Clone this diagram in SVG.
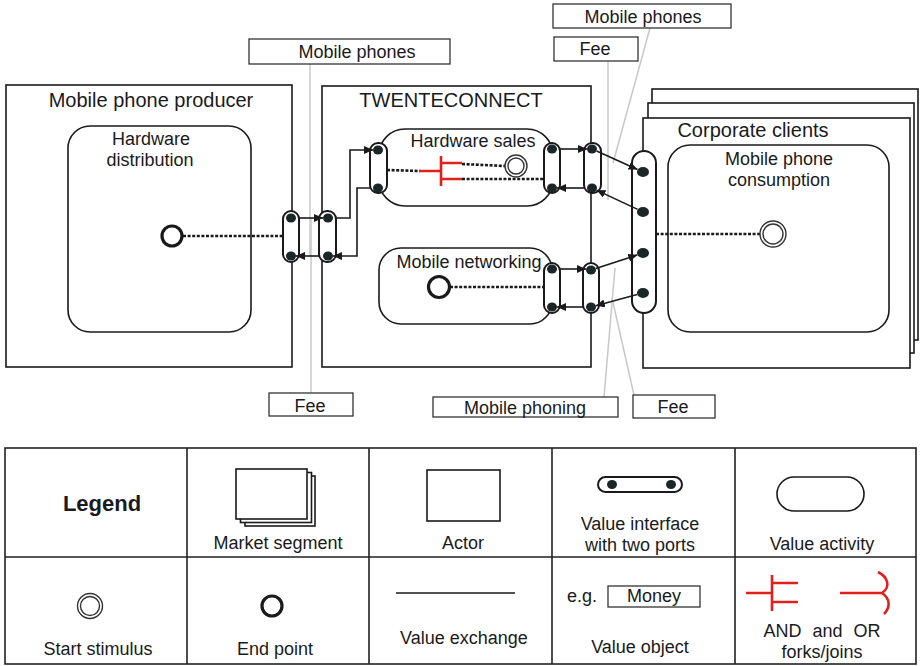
<svg xmlns="http://www.w3.org/2000/svg" width="920" height="666" viewBox="0 0 920 666">
  <style>
    text { font-family: "Liberation Sans", Arial, sans-serif; fill: #1a1a1a; }
    .title { font-size: 20px; text-anchor: middle; }
    .lbl { font-size: 18px; text-anchor: middle; }
    .actor { fill: #fff; stroke: #1a1a1a; stroke-width: 1.6; }
    .act { fill: #fff; stroke: #1a1a1a; stroke-width: 1.6; }
    .iface { fill: #fff; stroke: #1a1a1a; stroke-width: 2; }
    .port { fill: #1b2626; }
    .vobj { fill: #fff; stroke: #333; stroke-width: 1.3; }
    .lead { stroke: #c8c8c8; stroke-width: 1.5; fill: none; }
    .dot { stroke: #1a1a1a; stroke-width: 2.6; stroke-dasharray: 3 1.6; fill: none; }
    .xch { stroke: #1a1a1a; stroke-width: 1.6; fill: none; marker-end: url(#arr); }
    .red { stroke: #e0201c; stroke-width: 2.6; fill: none; }
    .endpt { fill: #fff; stroke: #1a1a1a; stroke-width: 3.2; }
    .stim { fill: #fff; stroke: #333; stroke-width: 1.4; }
    .grid { fill: none; stroke: #222; stroke-width: 1.6; }
  </style>
  <defs>
    <marker id="arr" markerUnits="userSpaceOnUse" markerWidth="9" markerHeight="8" refX="9" refY="4" orient="auto">
      <path d="M0,0 L9,4 L0,8 z" fill="#1a1a1a"/>
    </marker>
  </defs>

  <rect width="920" height="666" fill="#fff"/>

  <!-- value object leader lines -->
  <g id="leaders">
    <line class="lead" x1="310" y1="64" x2="310" y2="256"/>
    <line class="lead" x1="311" y1="218" x2="311" y2="393"/>
    <line class="lead" x1="650" y1="28" x2="613" y2="163"/>
    <line class="lead" x1="608" y1="61" x2="608" y2="200"/>
    <line class="lead" x1="604" y1="397" x2="615" y2="268"/>
    <line class="lead" x1="634" y1="395" x2="612" y2="298"/>
  </g>

  <!-- actor: Mobile phone producer -->
  <g id="producer">
    <rect class="actor" x="6" y="85" width="286" height="282"/>
    <text class="title" x="151" y="107">Mobile phone producer</text>
    <g id="hardware-distribution">
      <rect class="act" x="68" y="126" width="183" height="206" rx="22"/>
      <text class="lbl" x="151" y="145">Hardware</text>
      <text class="lbl" x="150" y="166">distribution</text>
      <circle class="endpt" cx="172" cy="236" r="10"/>
      <line class="dot" x1="183" y1="236" x2="283" y2="236"/>
    </g>
  </g>

  <!-- actor: TWENTECONNECT -->
  <g id="twenteconnect">
    <rect class="actor" x="322" y="86" width="269" height="281"/>
    <text class="title" x="451" y="107">TWENTECONNECT</text>
    <g id="hardware-sales">
      <rect class="act" x="379" y="129" width="174" height="77" rx="26"/>
      <text class="lbl" x="473" y="147">Hardware sales</text>
      <line class="dot" x1="387" y1="170" x2="420" y2="171"/>
      <path class="red" d="M419,171 H441 M441,156 V186 M441,163 H462 M441,179 H462"/>
      <line class="dot" x1="462" y1="164" x2="505" y2="166"/>
      <line class="dot" x1="462" y1="179" x2="544" y2="179"/>
      <circle class="stim" cx="516" cy="166" r="11"/>
      <circle class="stim" cx="516" cy="166" r="8"/>
    </g>
    <g id="mobile-networking">
      <rect class="act" x="379" y="248" width="173" height="76" rx="22"/>
      <text class="lbl" x="469" y="268">Mobile networking</text>
      <circle class="endpt" cx="439" cy="287" r="10.5"/>
      <line class="dot" x1="450" y1="287" x2="544" y2="287"/>
    </g>
  </g>

  <!-- market segment: Corporate clients -->
  <g id="corporate-clients">
    <rect class="actor" x="652" y="89" width="266" height="251"/>
    <rect class="actor" x="648" y="103" width="266" height="250"/>
    <rect class="actor" x="643" y="118" width="267" height="250"/>
    <text class="title" x="753" y="137">Corporate clients</text>
    <g id="mobile-phone-consumption">
      <rect class="act" x="668" y="145" width="221" height="187" rx="22"/>
      <text class="lbl" x="779" y="165">Mobile phone</text>
      <text class="lbl" x="779" y="186">consumption</text>
      <line class="dot" x1="656" y1="234" x2="760" y2="234"/>
      <circle class="stim" cx="773" cy="234" r="13"/>
      <circle class="stim" cx="773" cy="234" r="10"/>
    </g>
  </g>

  <!-- value interfaces with ports -->
  <g id="interfaces">
    <g id="if-producer">
      <rect class="iface" x="283" y="211" width="16" height="51" rx="8"/>
      <ellipse class="port" cx="291" cy="218" rx="5" ry="4.5"/>
      <ellipse class="port" cx="291" cy="256" rx="5" ry="4.5"/>
    </g>
    <g id="if-twente-left">
      <rect class="iface" x="319" y="211" width="17" height="51" rx="8"/>
      <ellipse class="port" cx="328" cy="218" rx="5" ry="4.5"/>
      <ellipse class="port" cx="328" cy="256" rx="5" ry="4.5"/>
    </g>
    <g id="if-sales-left">
      <rect class="iface" x="370" y="143" width="17" height="50" rx="8"/>
      <ellipse class="port" cx="378" cy="150" rx="5" ry="4.5"/>
      <ellipse class="port" cx="378" cy="188" rx="5" ry="4.5"/>
    </g>
    <g id="if-sales-right">
      <rect class="iface" x="544" y="143" width="16" height="50" rx="8"/>
      <ellipse class="port" cx="552" cy="149" rx="5" ry="4.5"/>
      <ellipse class="port" cx="552" cy="188" rx="5" ry="4.5"/>
    </g>
    <g id="if-twente-top">
      <rect class="iface" x="584" y="143" width="17" height="50" rx="8"/>
      <ellipse class="port" cx="592" cy="149" rx="5" ry="4.5"/>
      <ellipse class="port" cx="592" cy="188" rx="5" ry="4.5"/>
    </g>
    <g id="if-network-right">
      <rect class="iface" x="544" y="263" width="16" height="50" rx="8"/>
      <ellipse class="port" cx="552" cy="269" rx="5" ry="4.5"/>
      <ellipse class="port" cx="552" cy="307" rx="5" ry="4.5"/>
    </g>
    <g id="if-twente-bottom">
      <rect class="iface" x="583" y="263" width="16" height="50" rx="8"/>
      <ellipse class="port" cx="591" cy="270" rx="5" ry="4.5"/>
      <ellipse class="port" cx="591" cy="307" rx="5" ry="4.5"/>
    </g>
    <g id="if-corporate">
      <rect class="iface" x="632" y="151" width="24" height="162" rx="12"/>
      <ellipse class="port" cx="643" cy="172" rx="6" ry="5"/>
      <ellipse class="port" cx="643" cy="212" rx="6" ry="5"/>
      <ellipse class="port" cx="643" cy="253" rx="6" ry="5"/>
      <ellipse class="port" cx="643" cy="293" rx="6" ry="5"/>
    </g>
  </g>

  <!-- value exchanges -->
  <g id="connectors">
    <path class="xch" d="M299,218 H323"/>
    <path class="xch" d="M319,256 H296"/>
    <path class="xch" d="M336,218 H350 V150 H373"/>
    <path class="xch" d="M370,188 H357 V256 H333"/>
    <path class="xch" d="M560,149 H587"/>
    <path class="xch" d="M584,188 H557"/>
    <path class="xch" d="M560,269 H586"/>
    <path class="xch" d="M583,307 H557"/>
    <path class="xch" d="M596.6,151.1 L637.5,169.5"/>
    <path class="xch" d="M637.6,209.4 L596.5,190.1"/>
    <path class="xch" d="M595.8,268.4 L637.3,254.9"/>
    <path class="xch" d="M637.2,294.6 L595.8,305.7"/>
  </g>

  <!-- value objects -->
  <g id="value-objects">
    <g id="vo-phones-1">
      <rect class="vobj" x="249" y="39" width="201" height="25"/>
      <text class="lbl" x="357" y="58">Mobile phones</text>
    </g>
    <g id="vo-fee-1">
      <rect class="vobj" x="269" y="393" width="84" height="23"/>
      <text class="lbl" x="310" y="412">Fee</text>
    </g>
    <g id="vo-phones-2">
      <rect class="vobj" x="553" y="4" width="178" height="24"/>
      <text class="lbl" x="643" y="23">Mobile phones</text>
    </g>
    <g id="vo-fee-2">
      <rect class="vobj" x="554" y="37" width="84" height="24"/>
      <text class="lbl" x="595" y="55">Fee</text>
    </g>
    <g id="vo-phoning">
      <rect class="vobj" x="433" y="397" width="185" height="20"/>
      <text class="lbl" x="525" y="414">Mobile phoning</text>
    </g>
    <g id="vo-fee-3">
      <rect class="vobj" x="633" y="395" width="82" height="23"/>
      <text class="lbl" x="673" y="413">Fee</text>
    </g>
  </g>

  <!-- legend table -->
  <g id="legend">
    <rect class="grid" x="5" y="448" width="911" height="216"/>
    <path class="grid" d="M5,557 H916 M187,448 V664 M369,448 V664 M552,448 V664 M735,448 V664"/>
    <text x="102" y="511" style="font-size:22px;font-weight:bold;text-anchor:middle">Legend</text>

    <rect class="actor" x="245" y="476" width="70" height="50"/>
    <rect class="actor" x="240.5" y="472.5" width="71" height="50"/>
    <rect class="actor" x="236" y="469" width="71" height="50"/>
    <text class="lbl" x="278" y="549">Market segment</text>

    <rect class="actor" x="427" y="470" width="73" height="51"/>
    <text class="lbl" x="463" y="549">Actor</text>

    <rect class="iface" x="598" y="477" width="84" height="15" rx="7.5"/>
    <ellipse class="port" cx="612" cy="484.5" rx="5" ry="4.5"/>
    <ellipse class="port" cx="671" cy="484.5" rx="5" ry="4.5"/>
    <text class="lbl" x="640" y="530">Value interface</text>
    <text class="lbl" x="640" y="551">with two ports</text>

    <rect class="act" x="777" y="477" width="87" height="34" rx="17"/>
    <text class="lbl" x="822" y="550">Value activity</text>

    <circle class="stim" cx="90" cy="606" r="12.5"/>
    <circle class="stim" cx="90" cy="606" r="9.5"/>
    <text class="lbl" x="98" y="655">Start stimulus</text>

    <circle class="endpt" cx="272" cy="606" r="10"/>
    <text class="lbl" x="275" y="655">End point</text>

    <line x1="396" y1="593" x2="515" y2="593" stroke="#1a1a1a" stroke-width="1.6"/>
    <text class="lbl" x="464" y="644">Value exchange</text>

    <text x="567" y="602" style="font-size:18px">e.g.</text>
    <rect class="vobj" x="608" y="586" width="92" height="21"/>
    <text class="lbl" x="654" y="602">Money</text>
    <text class="lbl" x="640" y="653">Value object</text>

    <path class="red" d="M746,593 H772 M772,575 V611 M772,583 H798 M772,602 H798"/>
    <path class="red" d="M840,593 H882 M878,572 C888,577 891,587 882,593 C891,599 890,608 884,614"/>
    <text class="lbl" x="822" y="637" word-spacing="6">AND and OR</text>
    <text class="lbl" x="822" y="658">forks/joins</text>
  </g>
</svg>
